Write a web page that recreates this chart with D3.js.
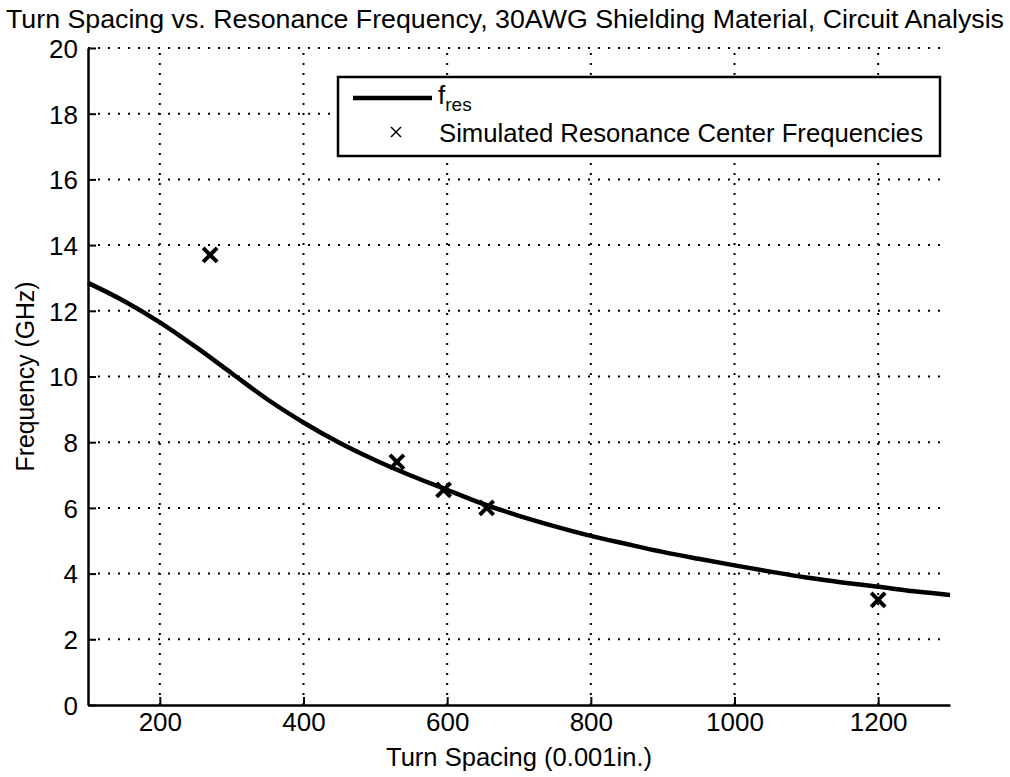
<!DOCTYPE html>
<html>
<head>
<meta charset="utf-8">
<script src="https://cdn.jsdelivr.net/npm/d3@7"></script>
<style>
  html, body { margin: 0; padding: 0; background: #fff; }
  svg text { font-family: "Liberation Sans", Arial, sans-serif; fill: #000; }
</style>
</head>
<body>
<svg id="chart" width="1010" height="777"></svg>
<script>
// Analytic resonance curve, f_res vs turn spacing
const curveSpacing = [100, 150, 200, 250, 300, 350, 400, 450, 500, 550, 600, 650, 700, 750,
                      800, 850, 900, 950, 1000, 1050, 1100, 1150, 1200, 1250, 1300];
const curveFreq = [12.85, 12.3, 11.65, 10.9, 10.1, 9.3, 8.6, 7.98, 7.45, 6.98, 6.55, 6.12, 5.76, 5.44,
                   5.15, 4.9, 4.66, 4.45, 4.25, 4.06, 3.88, 3.73, 3.6, 3.46, 3.35];

// Simulated resonance centre frequencies
const simSpacing = [270, 530, 595, 655, 1200];
const simFreq = [13.7, 7.4, 6.55, 6.0, 3.2];

const xTicks = [200, 400, 600, 800, 1000, 1200];
const yTicks = [0, 2, 4, 6, 8, 10, 12, 14, 16, 18, 20];

const titleText = "Turn Spacing vs. Resonance Frequency, 30AWG Shielding Material, Circuit Analysis";
const xLabelText = "Turn Spacing (0.001in.)";
const yLabelText = "Frequency (GHz)";
const legendCurve = "f";
const legendCurveSub = "res";
const legendSim = "Simulated Resonance Center Frequencies";

const svg = d3.select("#chart");
const plotLeft = 88, plotRight = 950, plotTop = 48, plotBottom = 705;

const x = d3.scaleLinear().domain([100, 1300]).range([plotLeft, plotRight]);
const y = d3.scaleLinear().domain([0, 20]).range([plotBottom, plotTop]);

// dotted grid
const grid = svg.append("g")
  .attr("stroke", "#000").attr("stroke-width", 2).attr("stroke-dasharray", "2,8");
grid.selectAll("line.gx").data(xTicks).join("line")
  .attr("x1", d => x(d)).attr("x2", d => x(d)).attr("y1", y(0)).attr("y2", y(20));
grid.selectAll("line.gy").data(yTicks.filter(d => d > 0)).join("line")
  .attr("x1", x(100)).attr("x2", x(1300) - 4).attr("y1", d => y(d)).attr("y2", d => y(d));

// axes with inward ticks
const xAxis = d3.axisBottom(x).tickValues(xTicks).tickFormat(d3.format("d"))
  .tickSizeInner(-8).tickSizeOuter(0).tickPadding(8);
const yAxis = d3.axisLeft(y).tickValues(yTicks).tickFormat(d3.format("d"))
  .tickSizeInner(-8).tickSizeOuter(0).tickPadding(10);

const gx = svg.append("g").attr("transform", `translate(0,${plotBottom})`).call(xAxis);
const gy = svg.append("g").attr("transform", `translate(${plotLeft},0)`).call(yAxis);
[gx, gy].forEach(g => {
  g.select(".domain").attr("stroke", "#000").attr("stroke-width", 2.5);
  g.selectAll(".tick line").attr("stroke", "#000").attr("stroke-width", 2);
  g.selectAll(".tick text").attr("font-size", 26).attr("font-family", "Liberation Sans, Arial, sans-serif").attr("fill", "#000");
});
gx.selectAll(".tick text").attr("dy", "0.71em");
gy.selectAll(".tick text").attr("dy", "0.36em");

// f_res curve
const line = d3.line().x((d, i) => x(curveSpacing[i])).y(d => y(d)).curve(d3.curveMonotoneX);
svg.append("path").datum(curveFreq)
  .attr("d", line).attr("fill", "none").attr("stroke", "#000")
  .attr("stroke-width", 4.5).attr("stroke-linejoin", "round");

// simulated points as x markers
const mk = 7;
const sim = svg.append("g").attr("stroke", "#000").attr("stroke-width", 4).attr("stroke-linecap", "butt");
simSpacing.forEach((s, i) => {
  const cx = x(s), cy = y(simFreq[i]);
  sim.append("line").attr("x1", cx - mk).attr("y1", cy - mk).attr("x2", cx + mk).attr("y2", cy + mk);
  sim.append("line").attr("x1", cx - mk).attr("y1", cy + mk).attr("x2", cx + mk).attr("y2", cy - mk);
});

// title and axis labels
svg.append("text").attr("x", 505).attr("y", 28).attr("text-anchor", "middle")
  .attr("font-size", 25).attr("textLength", 998).attr("lengthAdjust", "spacingAndGlyphs")
  .text(titleText);
svg.append("text").attr("x", (plotLeft + plotRight) / 2).attr("y", 766).attr("text-anchor", "middle")
  .attr("font-size", 26).attr("textLength", 266).attr("lengthAdjust", "spacingAndGlyphs")
  .text(xLabelText);
svg.append("text").attr("transform", `translate(34,${(plotTop + plotBottom) / 2}) rotate(-90)`)
  .attr("text-anchor", "middle").attr("font-size", 26)
  .attr("textLength", 190).attr("lengthAdjust", "spacingAndGlyphs")
  .text(yLabelText);

// legend
const lg = svg.append("g");
lg.append("rect").attr("x", 338).attr("y", 77).attr("width", 602).attr("height", 79)
  .attr("fill", "#fff").attr("stroke", "#000").attr("stroke-width", 2.5);
lg.append("line").attr("x1", 353).attr("x2", 432).attr("y1", 98).attr("y2", 98)
  .attr("stroke", "#000").attr("stroke-width", 4.5);
const ft = lg.append("text").attr("x", 438).attr("y", 104).attr("font-size", 26);
ft.append("tspan").text(legendCurve);
ft.append("tspan").attr("font-size", 19).attr("dy", 7).text(legendCurveSub);
const lmk = 5;
lg.append("line").attr("x1", 396 - lmk).attr("y1", 132 - lmk).attr("x2", 396 + lmk).attr("y2", 132 + lmk)
  .attr("stroke", "#000").attr("stroke-width", 1.5);
lg.append("line").attr("x1", 396 - lmk).attr("y1", 132 + lmk).attr("x2", 396 + lmk).attr("y2", 132 - lmk)
  .attr("stroke", "#000").attr("stroke-width", 1.5);
lg.append("text").attr("x", 439).attr("y", 142).attr("font-size", 26)
  .attr("textLength", 484).attr("lengthAdjust", "spacingAndGlyphs")
  .text(legendSim);
</script>
</body>
</html>
